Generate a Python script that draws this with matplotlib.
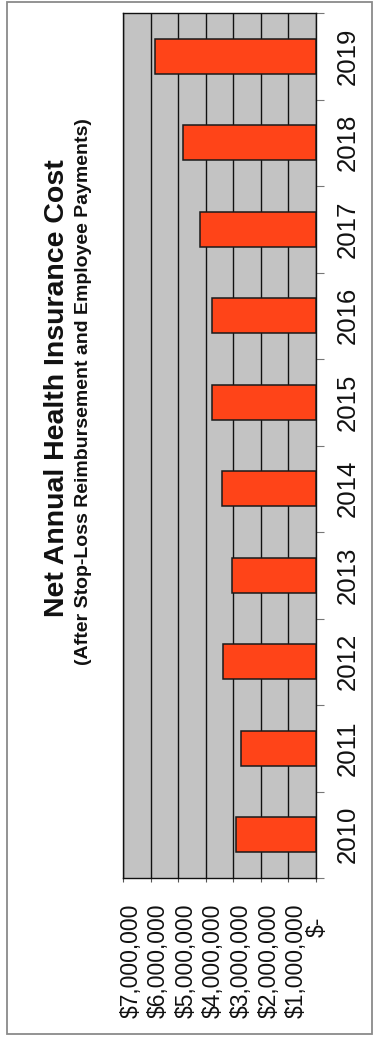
import numpy as np
import matplotlib
matplotlib.use("Agg")
import matplotlib.pyplot as plt
from matplotlib.patches import Rectangle
from matplotlib.transforms import ScaledTranslation

plt.rcParams['font.family'] = ['Liberation Sans', 'DejaVu Sans']

years = ['2010', '2011', '2012', '2013', '2014', '2015', '2016', '2017', '2018', '2019']
net_cost = [2900000, 2710000, 3360000, 3040000, 3420000, 3780000, 3790000, 4210000, 4810000, 5850000]
value_ticks = [0, 1000000, 2000000, 3000000, 4000000, 5000000, 6000000, 7000000]
value_labels = ['$-', '$1,000,000', '$2,000,000', '$3,000,000', '$4,000,000',
                '$5,000,000', '$6,000,000', '$7,000,000']

title = 'Net Annual Health Insurance Cost'
subtitle = '(After Stop-Loss Reimbursement and Employee Payments)'

fig = plt.figure(figsize=(3.75, 10.41), dpi=100)
fig.patch.set_facecolor('white')

# outer frame round the whole chart
fig.patches.append(Rectangle((7 / 375, 1 - 1034 / 1041), 365 / 375, 1032 / 1041,
                             transform=fig.transFigure, fill=False,
                             edgecolor='#8a8a8a', linewidth=1.3))

ax = fig.add_axes([123 / 375, 1 - 878 / 1041, 193 / 375, 865 / 1041])
ax.set_facecolor('#c3c3c3')

pos = np.arange(len(years))
ax.barh(pos, net_cost, height=0.40, color='#ff4418', edgecolor='#1a1a1a',
        linewidth=1.1, zorder=3)

ax.set_xlim(7000000, 0)
ax.set_ylim(-0.5, len(years) - 0.5)

# value axis along the bottom, labels turned upright
ax.set_xticks(value_ticks)
ax.set_xticklabels(value_labels, rotation=90, fontsize=16.5, color='#111111',
                   va='top', ha='center')
ax.tick_params(axis='x', length=3, width=0.8, color='#555555', pad=15.5)
ax.grid(axis='x', color='#111111', linewidth=1.0, zorder=1)
for lab in ax.get_xticklabels():
    if lab.get_text() == '$-':
        shift = ScaledTranslation(1 / 100, -13 / 100, fig.dpi_scale_trans)
    else:
        shift = ScaledTranslation(8 / 100, 0, fig.dpi_scale_trans)
    lab.set_transform(lab.get_transform() + shift)

# year axis on the right side
ax.yaxis.tick_right()
ax.set_yticks(np.arange(-0.5, len(years), 1.0))
ax.set_yticklabels([])
ax.set_yticks(pos, minor=True)
ax.set_yticklabels(years, minor=True, rotation=90, fontsize=18.5,
                   color='#111111', va='center', ha='left')
ax.tick_params(axis='y', which='major', direction='out', length=6,
               width=0.8, color='#777777', right=True, left=False)
ax.tick_params(axis='y', which='minor', length=0, pad=14.5, right=True, left=False)

for side in ax.spines.values():
    side.set_color('#111111')
    side.set_linewidth(1.0)

# titles sit to the left of the plot, reading upward
fig.text(57 / 375, 1 - 388 / 1041, title, rotation=90, fontsize=20.5,
         fontweight='bold', color='#111111', ha='center', va='center')
fig.text(84 / 375, 1 - 392 / 1041, subtitle, rotation=90, fontsize=14,
         fontweight='bold', color='#111111', ha='center', va='center')

fig.savefig('out.png', dpi=100, facecolor='white')
